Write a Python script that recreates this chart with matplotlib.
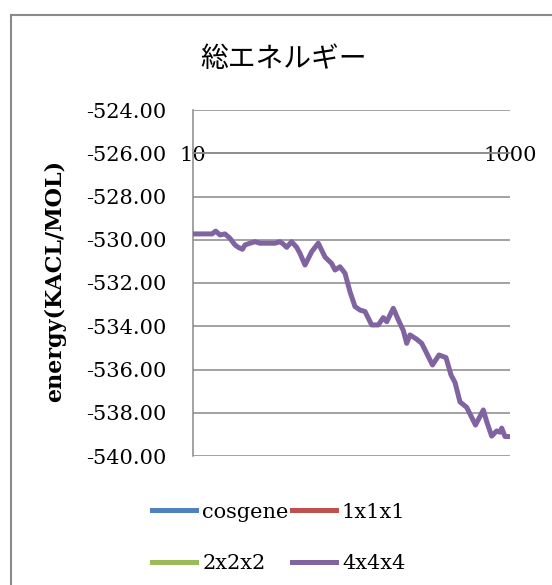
import matplotlib
matplotlib.use("Agg")
import matplotlib.pyplot as plt
from matplotlib.lines import Line2D
from matplotlib.ticker import FixedLocator, FuncFormatter, NullLocator

# steps (log axis) and total energy
steps = [10, 13.2, 13.9, 14.8, 15.9, 17.1, 18.4, 19.3, 20.5, 21.3,
         22.9, 24.6, 26.5, 29.2, 32.9, 35.4, 37.1, 39.0, 41.9, 45.1,
         47.3, 50.9, 56.1, 61.7, 68.1, 75.0, 78.7, 84.6, 91.0, 97.8,
         105.2, 113.1, 121.7, 134.1, 147.6, 158.7, 166.8, 183.5, 197.3, 212.3,
         223.0, 233.9, 257.9, 277.3, 298.2, 324.3, 356.5, 394.7, 424.4, 449.8,
         483.6, 533.2, 605.9, 678.6, 712.9, 766.3, 824.5, 864.9, 886.5, 929.9,
         1000]
energy_4x4x4 = [-529.73, -529.73, -529.60, -529.78, -529.73, -529.93, -530.24, -530.35, -530.44, -530.24,
                -530.16, -530.09, -530.16, -530.16, -530.16, -530.09, -530.20, -530.35, -530.09, -530.35,
                -530.63, -531.17, -530.55, -530.16, -530.80, -531.10, -531.40, -531.25, -531.55, -532.40,
                -533.09, -533.25, -533.32, -533.94, -533.94, -533.60, -533.79, -533.17, -533.70, -534.20,
                -534.79, -534.40, -534.60, -534.79, -535.25, -535.79, -535.33, -535.45, -536.25, -536.60,
                -537.50, -537.75, -538.57, -537.87, -538.41, -539.08, -538.84, -538.90, -538.71, -539.10,
                -539.10]

series_names = ["cosgene", "1x1x1", "2x2x2", "4x4x4"]
series_colors = ["#4F81BD", "#C0504D", "#9BBB59", "#8064A2"]

y_ticks = [-524, -526, -528, -530, -532, -534, -536, -538, -540]
x_ticks = [10, 1000]

TITLE = "総エネルギー"
Y_LABEL = "energy(KACL/MOL)"

GRID = "#898989"
FS = 15

plt.rcParams["font.family"] = ["DejaVu Serif"]

W, H = 552, 585
fig = plt.figure(figsize=(W / 100, H / 100), dpi=100)

# outer chart frame: only top and left edges are inside the screenshot
x0, y0 = 10.5 / W, 1 - 15 / H
fig.add_artist(Line2D([x0, 1.0], [y0, y0], transform=fig.transFigure,
                      color="#8a8a8a", linewidth=1.5))
fig.add_artist(Line2D([x0, x0], [0.0, y0], transform=fig.transFigure,
                      color="#8a8a8a", linewidth=1.5))

ax = fig.add_axes([193 / W, 1 - 456 / H, 317 / W, 346 / H])

# hidden series (only shown in the legend) + the visible 4x4x4 line
handles = {}
for name, col in zip(series_names, series_colors):
    if name == "4x4x4":
        (h,) = ax.plot(steps, energy_4x4x4, color=col, linewidth=3.6,
                       solid_joinstyle="round", zorder=3, label=name)
    else:
        (h,) = ax.plot([], [], color=col, linewidth=3.6, label=name)
    handles[name] = h

ax.set_xscale("log")
ax.set_xlim(10, 1000)
ax.set_ylim(-540, -524)

ax.yaxis.set_major_locator(FixedLocator(y_ticks))
ax.yaxis.set_major_formatter(FuncFormatter(lambda v, p: f"{v:.2f}"))
ax.xaxis.set_major_locator(FixedLocator(x_ticks))
ax.xaxis.set_minor_locator(NullLocator())
ax.xaxis.set_major_formatter(FuncFormatter(lambda v, p: f"{v:.0f}"))

ax.grid(axis="y", color=GRID, linewidth=1.1)
ax.set_axisbelow(True)

for s in ["top", "right"]:
    ax.spines[s].set_visible(False)
ax.spines["left"].set_color(GRID)
ax.spines["left"].set_linewidth(1.1)
ax.spines["bottom"].set_color(GRID)
ax.spines["bottom"].set_linewidth(1.1)
ax.spines["bottom"].set_position(("data", -526))

ax.tick_params(axis="y", length=0, pad=19, labelsize=FS, colors="black")
ax.tick_params(axis="x", length=0, pad=0, labelsize=FS, colors="black")
for lab in ax.get_xticklabels():
    lab.set_verticalalignment("center_baseline")

fig.text(283.5 / W, 1 - 59 / H, TITLE, fontsize=20, ha="center", va="center",
         family=["Noto Sans CJK JP", "DejaVu Sans"])
fig.text(55 / W, 1 - 281 / H, Y_LABEL, rotation=90, fontsize=16,
         fontweight="bold", ha="center", va="center")

# legend: row 1 cosgene / 1x1x1, row 2 2x2x2 / 4x4x4
order = ["cosgene", "2x2x2", "1x1x1", "4x4x4"]
fig.legend([handles[n] for n in order], order, ncol=2, loc="center",
           bbox_to_anchor=(279 / W, 1 - 538 / H), frameon=False,
           fontsize=FS, handlelength=2.1, handletextpad=0.3,
           columnspacing=0.15, labelspacing=1.58, borderpad=0)

fig.savefig("out.png", dpi=100, facecolor="white")
